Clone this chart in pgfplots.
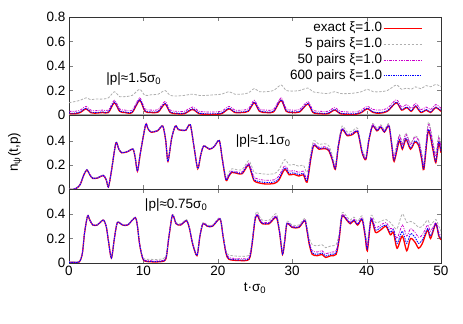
\documentclass[border=0pt]{standalone}
\usepackage{fontspec}
\setmainfont{Liberation Sans}
\usepackage{pgfplots}
\usepackage{pgfplotstable}
\pgfplotsset{compat=1.18}

% columns: t, exact, 5 pairs, 50 pairs, 600 pairs
\pgfplotstableread{
t ex g m b
0 0.01 0.10 0.03 0.015
0.8 0.01 0.11 0.03 0.015
1.5 0.02 0.12 0.04 0.025
2.3 0.05 0.14 0.07 0.055
2.9 0.02 0.125 0.04 0.025
3.5 0.015 0.13 0.035 0.02
4.5 0.02 0.13 0.04 0.025
5.3 0.02 0.14 0.04 0.025
6.1 0.10 0.19 0.12 0.105
6.8 0.03 0.15 0.05 0.035
7.5 0.02 0.15 0.04 0.025
8.5 0.02 0.16 0.04 0.025
9.5 0.12 0.21 0.14 0.125
10.2 0.03 0.16 0.05 0.035
11.0 0.02 0.165 0.04 0.025
12.0 0.025 0.17 0.045 0.03
12.9 0.09 0.20 0.11 0.095
13.6 0.02 0.16 0.04 0.025
14.5 0.01 0.155 0.03 0.015
15.5 0.01 0.16 0.03 0.015
16.6 0.045 0.17 0.065 0.05
17.5 0.01 0.16 0.03 0.015
18.5 0.005 0.16 0.025 0.01
19.5 0.005 0.165 0.025 0.01
20.5 0.01 0.17 0.03 0.015
21.5 0.05 0.19 0.07 0.055
22.3 0.02 0.17 0.04 0.025
23.2 0.02 0.17 0.04 0.025
24.1 0.03 0.18 0.05 0.035
24.9 0.10 0.215 0.12 0.105
25.6 0.03 0.19 0.05 0.035
26.5 0.02 0.19 0.04 0.025
27.5 0.025 0.20 0.045 0.03
28.5 0.12 0.245 0.14 0.125
29.2 0.03 0.20 0.05 0.035
30.0 0.02 0.195 0.04 0.025
31.0 0.025 0.20 0.045 0.03
32.1 0.09 0.22 0.11 0.095
32.8 0.02 0.19 0.04 0.025
33.8 0.01 0.18 0.03 0.015
34.8 0.01 0.175 0.03 0.015
35.7 0.04 0.19 0.06 0.045
36.5 0.01 0.175 0.03 0.015
37.5 0.005 0.175 0.025 0.01
38.5 0.005 0.18 0.025 0.01
39.3 0.02 0.19 0.04 0.025
40.1 0.05 0.21 0.07 0.055
40.9 0.02 0.19 0.045 0.025
41.8 0.015 0.19 0.04 0.02
42.8 0.03 0.20 0.055 0.035
44.0 0.10 0.245 0.125 0.105
44.7 0.04 0.21 0.065 0.045
45.4 0.06 0.22 0.085 0.065
46.0 0.03 0.21 0.055 0.035
46.6 0.07 0.23 0.095 0.075
47.3 0.02 0.215 0.045 0.025
48.0 0.04 0.24 0.065 0.045
48.6 0.02 0.23 0.045 0.025
49.3 0.06 0.25 0.085 0.065
50.0 0.03 0.23 0.055 0.035
}\toptab

\pgfplotstableread{
t ex g m b
0 0.0 0.005 0.002 0.001
0.5 0.0 0.005 0.002 0.001
1.0 0.01 0.015 0.012 0.011
1.5 0.04 0.045 0.042 0.041
2.0 0.12 0.125 0.122 0.121
2.4 0.16 0.165 0.162 0.161
2.8 0.12 0.125 0.122 0.121
3.2 0.09 0.095 0.092 0.091
3.9 0.095 0.10 0.097 0.096
4.6 0.115 0.12 0.117 0.116
5.0 0.08 0.085 0.082 0.081
5.3 0.02 0.025 0.022 0.021
5.7 0.15 0.155 0.152 0.151
6.3 0.38 0.385 0.382 0.381
6.7 0.33 0.335 0.332 0.331
7.1 0.30 0.305 0.302 0.301
7.9 0.31 0.315 0.312 0.311
8.6 0.33 0.335 0.332 0.331
8.9 0.26 0.265 0.262 0.261
9.2 0.15 0.155 0.152 0.151
9.6 0.30 0.305 0.302 0.301
10.3 0.53 0.535 0.532 0.531
10.6 0.50 0.505 0.502 0.501
11.0 0.47 0.475 0.472 0.471
11.9 0.48 0.485 0.482 0.481
12.6 0.52 0.525 0.522 0.521
13.0 0.40 0.405 0.402 0.401
13.3 0.23 0.235 0.232 0.231
13.8 0.42 0.425 0.422 0.421
14.3 0.52 0.525 0.522 0.521
14.7 0.49 0.495 0.492 0.491
15.1 0.485 0.49 0.487 0.486
15.7 0.485 0.49 0.487 0.486
16.3 0.53 0.535 0.532 0.531
16.8 0.35 0.355 0.352 0.351
17.3 0.17 0.175 0.172 0.171
17.7 0.28 0.285 0.282 0.281
18.1 0.355 0.36 0.357 0.356
18.9 0.33 0.335 0.332 0.331
19.5 0.35 0.355 0.352 0.351
20.2 0.40 0.405 0.402 0.401
20.6 0.25 0.26 0.254 0.252
21.1 0.076 0.10 0.086 0.08
21.5 0.11 0.14 0.122 0.115
21.9 0.14 0.17 0.152 0.145
22.7 0.13 0.16 0.142 0.135
23.3 0.13 0.165 0.145 0.135
24.1 0.20 0.235 0.215 0.205
24.5 0.14 0.20 0.165 0.15
24.9 0.07 0.14 0.10 0.08
25.8 0.05 0.13 0.08 0.062
26.6 0.045 0.125 0.075 0.057
27.6 0.05 0.13 0.08 0.062
28.2 0.076 0.16 0.11 0.088
29.0 0.165 0.245 0.195 0.177
29.6 0.12 0.20 0.15 0.132
30.2 0.125 0.205 0.155 0.137
30.9 0.11 0.19 0.14 0.122
31.5 0.12 0.20 0.15 0.132
32.0 0.06 0.14 0.09 0.072
32.5 0.25 0.30 0.27 0.257
32.9 0.36 0.40 0.375 0.366
33.6 0.33 0.37 0.345 0.336
34.3 0.335 0.375 0.35 0.341
34.9 0.32 0.36 0.335 0.326
35.4 0.24 0.28 0.255 0.246
35.8 0.165 0.20 0.18 0.17
36.2 0.35 0.38 0.362 0.355
36.7 0.49 0.52 0.50 0.494
37.4 0.44 0.47 0.452 0.445
38.1 0.45 0.48 0.462 0.455
38.8 0.47 0.50 0.482 0.475
39.4 0.30 0.33 0.312 0.305
39.9 0.245 0.275 0.257 0.25
40.3 0.40 0.42 0.41 0.403
40.8 0.52 0.54 0.53 0.523
41.4 0.48 0.50 0.49 0.483
41.9 0.51 0.53 0.52 0.513
42.4 0.47 0.49 0.48 0.473
43.0 0.52 0.54 0.53 0.523
43.4 0.35 0.38 0.37 0.355
43.7 0.23 0.28 0.26 0.24
44.4 0.40 0.45 0.44 0.41
44.8 0.33 0.38 0.37 0.34
45.3 0.41 0.46 0.45 0.42
45.9 0.33 0.38 0.37 0.34
46.5 0.39 0.44 0.43 0.40
47.0 0.36 0.41 0.40 0.37
47.4 0.25 0.30 0.29 0.26
47.7 0.165 0.22 0.20 0.175
48.3 0.48 0.55 0.53 0.49
48.9 0.33 0.40 0.38 0.34
49.3 0.22 0.29 0.27 0.23
49.7 0.38 0.44 0.42 0.39
50.0 0.30 0.36 0.34 0.31
}\midtab

\pgfplotstableread{
t ex g m b
0 0.005 0.01 0.007 0.005
0.5 0.005 0.01 0.007 0.005
1.4 0.01 0.015 0.012 0.01
1.8 0.08 0.085 0.082 0.08
2.1 0.25 0.255 0.252 0.25
2.5 0.385 0.39 0.387 0.385
2.8 0.35 0.355 0.352 0.35
3.2 0.31 0.315 0.312 0.31
3.8 0.31 0.315 0.312 0.31
4.6 0.35 0.355 0.352 0.35
5.0 0.30 0.305 0.302 0.30
5.3 0.18 0.185 0.182 0.18
5.7 0.04 0.045 0.042 0.04
6.1 0.20 0.205 0.202 0.20
6.5 0.33 0.335 0.332 0.33
7.2 0.31 0.315 0.312 0.31
7.9 0.31 0.315 0.312 0.31
8.9 0.37 0.375 0.372 0.37
9.2 0.30 0.305 0.302 0.30
9.5 0.15 0.155 0.152 0.15
10.0 0.025 0.04 0.03 0.027
11.0 0.01 0.03 0.018 0.013
12.1 0.01 0.03 0.018 0.013
13.0 0.03 0.05 0.038 0.033
13.4 0.20 0.21 0.204 0.20
13.9 0.39 0.40 0.394 0.39
14.4 0.32 0.33 0.324 0.32
15.0 0.31 0.32 0.314 0.31
15.8 0.345 0.355 0.349 0.345
16.2 0.28 0.29 0.284 0.28
16.6 0.16 0.17 0.164 0.16
17.2 0.06 0.07 0.064 0.06
17.6 0.22 0.23 0.224 0.22
18.0 0.32 0.33 0.324 0.32
18.6 0.30 0.31 0.304 0.30
19.3 0.30 0.31 0.304 0.30
20.3 0.36 0.37 0.364 0.36
20.7 0.22 0.23 0.224 0.22
21.1 0.08 0.10 0.09 0.083
21.5 0.03 0.065 0.045 0.035
22.9 0.02 0.055 0.035 0.025
24.2 0.03 0.065 0.045 0.035
24.6 0.15 0.18 0.162 0.155
25.0 0.35 0.38 0.362 0.355
25.3 0.39 0.42 0.40 0.393
25.6 0.35 0.38 0.362 0.354
26.0 0.32 0.35 0.332 0.324
26.9 0.32 0.35 0.332 0.324
27.3 0.345 0.375 0.357 0.349
27.9 0.37 0.40 0.382 0.374
28.3 0.25 0.27 0.258 0.253
28.7 0.07 0.09 0.078 0.073
29.0 0.18 0.20 0.188 0.183
29.3 0.32 0.34 0.328 0.323
30.0 0.29 0.31 0.298 0.293
30.9 0.29 0.31 0.298 0.293
31.7 0.345 0.365 0.353 0.348
32.0 0.26 0.29 0.272 0.265
32.3 0.15 0.20 0.17 0.158
32.7 0.07 0.15 0.10 0.082
33.4 0.06 0.14 0.09 0.072
34.0 0.07 0.15 0.10 0.082
34.5 0.045 0.125 0.075 0.057
35.2 0.06 0.14 0.09 0.072
35.9 0.07 0.15 0.10 0.082
36.3 0.19 0.24 0.21 0.198
36.7 0.38 0.41 0.392 0.385
37.4 0.345 0.375 0.357 0.35
37.8 0.32 0.35 0.332 0.325
38.3 0.345 0.375 0.357 0.35
38.8 0.31 0.34 0.322 0.315
39.4 0.355 0.385 0.367 0.36
39.8 0.22 0.26 0.24 0.23
40.1 0.10 0.17 0.13 0.115
40.6 0.355 0.39 0.37 0.36
41.2 0.25 0.33 0.29 0.27
41.9 0.27 0.34 0.31 0.29
42.6 0.30 0.355 0.33 0.31
43.2 0.23 0.33 0.28 0.25
43.6 0.25 0.30 0.28 0.27
44.1 0.12 0.28 0.20 0.16
44.8 0.22 0.40 0.31 0.26
45.4 0.10 0.33 0.22 0.16
45.9 0.20 0.34 0.28 0.24
46.5 0.17 0.32 0.25 0.21
47.0 0.12 0.29 0.21 0.16
47.5 0.16 0.30 0.23 0.19
48.2 0.27 0.35 0.31 0.28
48.6 0.20 0.31 0.26 0.22
49.3 0.32 0.355 0.33 0.32
49.7 0.22 0.30 0.25 0.23
50.0 0.19 0.26 0.22 0.20
}\bottab

\definecolor{gpgray}{RGB}{175,175,175}
\definecolor{gpmag}{RGB}{204,0,204}
\newcommand{\gpfont}{\fontsize{13.5bp}{15bp}\selectfont}

\pgfplotsset{
  panel/.style={
    scale only axis, width=372bp,
    xmin=0, xmax=50, ymin=0,
    xtick={0,10,...,50},
    tick align=inside, major tick length=4bp,
    axis line style={black!80},
    tick label style={font=\gpfont},
    label style={font=\gpfont},
    /pgf/number format/assume math mode=true,
    /pgf/number format/.cd, fixed, precision=1,
  },
  exact/.style={red, line width=1.3bp, smooth, tension=0.45},
  five/.style={gpgray, line width=0.8bp, dash pattern=on 2.5bp off 1.5bp, smooth, tension=0.45},
  fifty/.style={gpmag, line width=0.8bp, dash pattern=on 2.5bp off 1.2bp on 0.8bp off 1.2bp, smooth, tension=0.45},
  six/.style={blue, line width=0.9bp, dash pattern=on 1.4bp off 1bp, smooth, tension=0.45},
}

\begin{document}
\begin{tikzpicture}[font=\gpfont]
\begin{axis}[panel, name=top, height=98bp, ymax=0.8,
    ytick={0,0.2,0.4,0.6,0.8}, xticklabels={},
    legend style={at={(rel axis cs:0.958,0.975)}, anchor=north east,
      draw=none, fill=none, row sep=2.2bp, font=\gpfont,
      nodes={inner sep=0.8bp, text height=9.5bp, text depth=2.5bp}},
    legend cell align=right, legend plot pos=right,
    legend image code/.code={\draw[#1] (0bp,0bp) -- (38bp,0bp);}]
\draw[gray!70, line width=1.5bp] (axis cs:0,0) -- (axis cs:50,0);
\addplot[exact] table[x=t, y=ex] {\toptab};
\addplot[five] table[x=t, y=g] {\toptab};
\addplot[fifty] table[x=t, y=m] {\toptab};
\addplot[six] table[x=t, y=b] {\toptab};
\legend{exact ξ=1.0, 5 pairs ξ=1.0, 50 pairs ξ=1.0, 600 pairs ξ=1.0}
\node at (axis cs:8.7,0.295) {|p|≈1.5σ\textsubscript{0}};
\end{axis}

\begin{axis}[panel, name=mid, at={(top.south west)}, anchor=north west,
    height=74.5bp, ymax=0.61, ytick={0,0.2,0.4}, xticklabels={},
    ylabel={n\textsubscript{ψ}(t,p)},
    ylabel style={yshift=18bp}]
\draw[gray!70, line width=1.5bp] (axis cs:0,0) -- (axis cs:50,0);
\addplot[exact] table[x=t, y=ex] {\midtab};
\addplot[five] table[x=t, y=g] {\midtab};
\addplot[fifty] table[x=t, y=m] {\midtab};
\addplot[six] table[x=t, y=b] {\midtab};
\node at (axis cs:26.1,0.40) {|p|≈1.1σ\textsubscript{0}};
\end{axis}

\begin{axis}[panel, name=bot, at={(mid.south west)}, anchor=north west,
    height=73.5bp, ymax=0.6, ytick={0,0.2,0.4},
    xlabel={t·σ\textsubscript{0}}]
\addplot[exact] table[x=t, y=ex] {\bottab};
\addplot[five] table[x=t, y=g] {\bottab};
\addplot[fifty] table[x=t, y=m] {\bottab};
\addplot[six] table[x=t, y=b] {\bottab};
\node at (axis cs:14.4,0.475) {|p|≈0.75σ\textsubscript{0}};
\coordinate (bl) at (rel axis cs:0,0);
\end{axis}
\pgfresetboundingbox
\path ([shift={(-69bp,-61bp)}]bl) rectangle ([shift={(22bp,17bp)}]top.north east);
\end{tikzpicture}
\end{document}
